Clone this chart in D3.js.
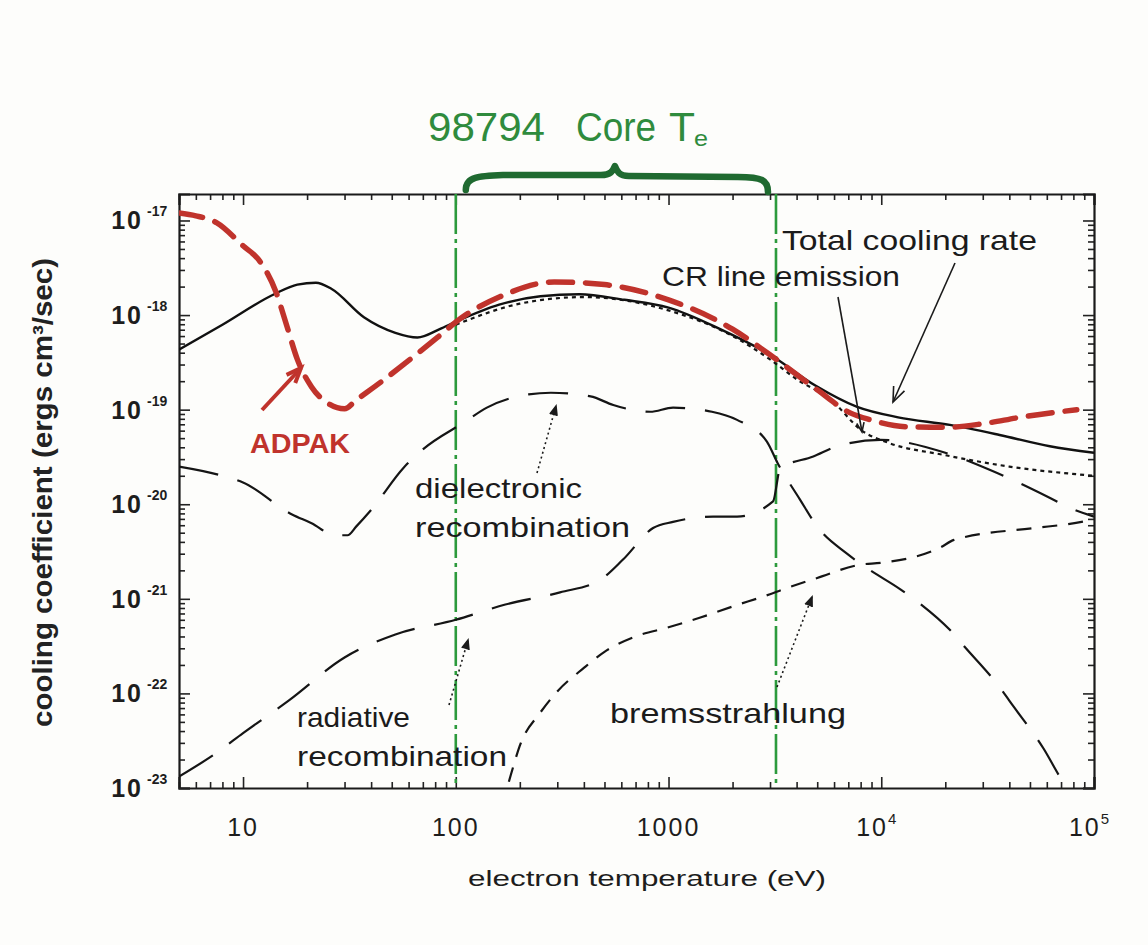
<!DOCTYPE html>
<html>
<head>
<meta charset="utf-8">
<script src="https://cdn.jsdelivr.net/npm/d3@7"></script>
<style>
  html, body { margin: 0; padding: 0; background: #fdfdfb; }
  svg { display: block; }
  text { font-family: "Liberation Sans", Arial, Helvetica, sans-serif; }
</style>
</head>
<body>
<svg id="chart" width="1148" height="945"></svg>
<script>
// ---- data: electron temperature (eV) and cooling coefficient (ergs cm^3/sec) ----
const totalT = [5, 8, 14, 18, 22, 26, 37, 52, 66, 84, 100, 160, 250, 380, 620, 1000, 1750, 3000, 4900, 7700, 12000, 21000, 36000, 62000, 100000];
const totalRate = [4.3e-19, 7.9e-19, 1.66e-18, 2.1e-18, 2.2e-18, 1.9e-18, 9.5e-19, 6.5e-19, 5.8e-19, 7.1e-19, 8.5e-19, 1.29e-18, 1.58e-18, 1.66e-18, 1.45e-18, 1.2e-18, 7.1e-19, 3.8e-19, 1.8e-19, 1.07e-19, 8.3e-20, 6.9e-20, 5.4e-20, 4.1e-20, 3.5e-20];

const lineT = [100, 200, 400, 1000, 2000, 3000, 4000, 5750, 8200, 10700, 20000, 40000, 100000];
const lineRate = [7.9e-19, 1.32e-18, 1.55e-18, 1.12e-18, 6.0e-19, 3.4e-19, 2.1e-19, 1.29e-19, 5.9e-20, 4.5e-20, 3.3e-20, 2.5e-20, 2.0e-20];

const adpakT = [5, 6, 7.5, 10, 12, 14.3, 16, 18, 21, 25, 30, 34, 45, 62, 82, 106, 160, 290, 500, 1000, 2000, 3000, 5000, 7100, 8900, 13000, 20000, 30000, 45000, 83000];
const adpakRate = [1.2e-17, 1.12e-17, 9.5e-18, 5.4e-18, 3.7e-18, 1.74e-18, 7.9e-19, 3.4e-19, 1.74e-19, 1.17e-19, 1.02e-19, 1.26e-19, 2.0e-19, 3.5e-19, 5.8e-19, 9.3e-19, 1.55e-18, 2.24e-18, 2.1e-18, 1.45e-18, 7.1e-19, 3.8e-19, 1.62e-19, 9.3e-20, 7.8e-20, 6.6e-20, 6.5e-20, 7.1e-20, 8.3e-20, 1.0e-19];

const dielT = [5, 8, 10, 17, 21, 27, 31, 34, 40, 57, 70, 110, 140, 220, 280, 430, 550, 820, 1050, 1600, 2100, 2900, 3250, 4150, 5000, 6900, 8600, 12300, 15200, 21000, 25000, 35000, 42000, 58000, 69000, 85000];
const dielRate = [2.5e-20, 2.0e-20, 1.7e-20, 7.8e-21, 6.3e-21, 4.7e-21, 4.7e-21, 5.8e-21, 8.7e-21, 2.45e-20, 3.8e-20, 7.4e-20, 1.05e-19, 1.45e-19, 1.51e-19, 1.38e-19, 1.12e-19, 9.5e-20, 1.05e-19, 9.5e-20, 7.8e-20, 4.6e-20, 2.75e-20, 1.12e-20, 5.8e-21, 3.0e-21, 2.1e-21, 1.26e-21, 8.9e-22, 4.7e-22, 3.0e-22, 1.26e-22, 7.2e-23, 2.6e-23, 1.32e-23, 6.3e-24];

const radT = [5, 7.6, 10, 16.5, 30, 52, 100, 171, 309, 476, 611, 846, 1050, 1620, 2100, 3100, 3350, 4790, 6200, 9900, 20000, 32500, 41600, 60500, 77300, 100000];
const radRate = [1.32e-23, 2.4e-23, 3.8e-23, 8.5e-23, 2.4e-22, 4.2e-22, 6.0e-22, 8.7e-22, 1.17e-21, 1.58e-21, 2.6e-21, 5.6e-21, 6.5e-21, 7.4e-21, 7.4e-21, 1.07e-20, 2.4e-20, 3.2e-20, 4.1e-20, 4.8e-20, 3.5e-20, 2.3e-20, 1.8e-20, 1.2e-20, 9.1e-21, 7.4e-21];

const bremT = [165, 185, 200, 250, 300, 400, 500, 700, 1000, 1400, 2000, 3000, 3460, 5000, 8000, 10000, 19000, 22000, 52000, 77000, 100000];
const bremRate = [6.3e-24, 1.6e-23, 2.8e-23, 6.3e-23, 1.05e-22, 1.86e-22, 2.75e-22, 4.0e-22, 5.0e-22, 6.3e-22, 8.3e-22, 1.12e-21, 1.26e-21, 1.66e-21, 2.3e-21, 2.4e-21, 3.5e-21, 4.2e-21, 5.6e-21, 6.2e-21, 6.9e-21];

// core temperature range (eV) marked by the vertical lines
const coreRange = [100, 3200];

// tick labels
const xTickValues = [10, 100, 1000, 1e4, 1e5];
const xTickBase = ["10", "100", "1000", "10", "10"];
const xTickSup = ["", "", "", "4", "5"];
const yTickValues = [1e-17, 1e-18, 1e-19, 1e-20, 1e-21, 1e-22, 1e-23];
const yTickSup = ["-17", "-18", "-19", "-20", "-21", "-22", "-23"];

// ---- layout ----
const plot = { left: 179, right: 1094, top: 194, bottom: 788 };
const svg = d3.select("#chart");

const x = d3.scaleLog().domain([5, 1e5]).range([plot.left, plot.right]);
const y = d3.scaleLog().domain([1e-23, Math.pow(10, -16.72)]).range([plot.bottom, plot.top]);

svg.append("defs").append("clipPath").attr("id", "plotClip")
  .append("rect")
  .attr("x", plot.left).attr("y", plot.top)
  .attr("width", plot.right - plot.left).attr("height", plot.bottom - plot.top);

// minor tick values for both log axes
const xMinor = [];
for (let e = 0; e <= 4; e++) for (let m = 2; m <= 9; m++) {
  const v = m * Math.pow(10, e);
  if (v >= 5 && v <= 1e5) xMinor.push(v);
}
const yMinor = [];
for (let e = -23; e <= -17; e++) for (let m = 2; m <= 9; m++) {
  const v = m * Math.pow(10, e);
  if (v <= Math.pow(10, -16.72)) yMinor.push(v);
}

function drawAxis(gen, transform, major, minor) {
  const g = svg.append("g").attr("transform", transform);
  g.call(gen.tickValues(minor).tickSize(-6).tickFormat(""));
  g.selectAll(".domain").remove();
  const g2 = svg.append("g").attr("transform", transform);
  g2.call(gen.tickValues(major).tickSize(-11).tickFormat(""));
  [g, g2].forEach(s => {
    s.selectAll("line").attr("stroke", "#222").attr("stroke-width", 1.6);
    s.selectAll(".domain").attr("stroke", "#1a1a1a").attr("stroke-width", 2.2);
  });
}
drawAxis(d3.axisBottom(x), `translate(0,${plot.bottom})`, xTickValues, xMinor);
drawAxis(d3.axisTop(x), `translate(0,${plot.top})`, xTickValues, xMinor);
drawAxis(d3.axisLeft(y), `translate(${plot.left},0)`, yTickValues, yMinor);
drawAxis(d3.axisRight(y), `translate(${plot.right},0)`, yTickValues, yMinor);

// x tick labels
xTickValues.forEach((v, i) => {
  const t = svg.append("text")
    .attr("x", x(v) - (xTickSup[i] ? 4 : 0)).attr("y", 836)
    .attr("text-anchor", "middle")
    .attr("font-size", 25).attr("letter-spacing", 2).attr("fill", "#1d1d1d");
  t.append("tspan").text(xTickBase[i]);
  if (xTickSup[i]) t.append("tspan").attr("dy", -12).attr("font-size", 15).text(xTickSup[i]);
});

// y tick labels
yTickValues.forEach((v, i) => {
  svg.append("text")
    .attr("x", 143).attr("y", y(v) + 9)
    .attr("text-anchor", "end")
    .attr("font-size", 25).attr("letter-spacing", 2).attr("font-weight", "bold").attr("fill", "#1d1d1d")
    .text("10");
  svg.append("text")
    .attr("x", 147).attr("y", y(v) - 4)
    .attr("font-size", 14).attr("font-weight", "bold").attr("fill", "#1d1d1d")
    .text(yTickSup[i]);
});

// axis titles
svg.append("text")
  .attr("transform", "translate(52,727) rotate(-90)")
  .attr("font-size", 27).attr("font-weight", "bold").attr("fill", "#222")
  .attr("textLength", 469).attr("lengthAdjust", "spacingAndGlyphs")
  .text("cooling  coefficient  (ergs  cm\u00B3/sec)");

svg.append("text")
  .attr("x", 468).attr("y", 886)
  .attr("font-size", 22).attr("fill", "#1d1d1d")
  .attr("textLength", 358).attr("lengthAdjust", "spacingAndGlyphs")
  .text("electron  temperature   (eV)");

// ---- curves ----
const plotArea = svg.append("g").attr("clip-path", "url(#plotClip)");
const lineGen = d3.line().x(d => x(d[0])).y(d => y(d[1])).curve(d3.curveMonotoneX);
const pairs = (ts, vs) => ts.map((t, i) => [t, vs[i]]);

// core temperature markers (dash-dot)
coreRange.forEach(t => {
  plotArea.append("line")
    .attr("x1", x(t)).attr("x2", x(t)).attr("y1", plot.top).attr("y2", plot.bottom)
    .attr("stroke", "#2c9a3c").attr("stroke-width", 2.6)
    .attr("stroke-dasharray", "40,5,4,5");
});

const series = [
  { t: radT, v: radRate, dash: "40,20", w: 2.2, c: "#151515" },
  { t: dielT, v: dielRate, dash: "40,20", w: 2.2, c: "#151515" },
  { t: bremT, v: bremRate, dash: "15,11", w: 2.2, c: "#151515" },
  { t: lineT, v: lineRate, dash: "4,4", w: 2.2, c: "#151515" },
  { t: totalT, v: totalRate, dash: null, w: 2.4, c: "#111" },
  { t: adpakT, v: adpakRate, dash: "24,13", w: 5.5, c: "#c0332c" }
];
series.forEach(s => {
  plotArea.append("path")
    .datum(pairs(s.t, s.v))
    .attr("d", lineGen)
    .attr("fill", "none")
    .attr("stroke", s.c).attr("stroke-width", s.w)
    .attr("stroke-dasharray", s.dash)
    .attr("stroke-linecap", s.dash && s.w > 4 ? "round" : "butt");
});

// ---- annotations ----
function arrow(x1, y1, x2, y2, opts) {
  const g = svg.append("g");
  g.append("line").attr("x1", x1).attr("y1", y1).attr("x2", x2).attr("y2", y2)
    .attr("stroke", opts.color).attr("stroke-width", opts.width)
    .attr("stroke-dasharray", opts.dash || null);
  const ang = Math.atan2(y2 - y1, x2 - x1);
  const L = opts.head, a = 0.38;
  const p1 = [x2 - L * Math.cos(ang - a), y2 - L * Math.sin(ang - a)];
  const p2 = [x2 - L * Math.cos(ang + a), y2 - L * Math.sin(ang + a)];
  g.append("path")
    .attr("d", `M${p1[0]},${p1[1]}L${x2},${y2}L${p2[0]},${p2[1]}`)
    .attr("fill", opts.fill ? opts.color : "none")
    .attr("stroke", opts.color).attr("stroke-width", opts.width);
}

const labelStyle = t => t.attr("font-size", 28).attr("fill", "#1b1b1b").attr("lengthAdjust", "spacingAndGlyphs");

labelStyle(svg.append("text").attr("x", 782).attr("y", 250).attr("textLength", 255).text("Total  cooling  rate"));
labelStyle(svg.append("text").attr("x", 662).attr("y", 286).attr("textLength", 238).text("CR  line  emission"));
labelStyle(svg.append("text").attr("x", 415).attr("y", 498).attr("textLength", 167).text("dielectronic"));
labelStyle(svg.append("text").attr("x", 415).attr("y", 537).attr("textLength", 215).text("recombination"));
labelStyle(svg.append("text").attr("x", 297).attr("y", 727).attr("textLength", 113).text("radiative"));
labelStyle(svg.append("text").attr("x", 297).attr("y", 766).attr("textLength", 210).text("recombination"));
labelStyle(svg.append("text").attr("x", 610).attr("y", 723).attr("textLength", 236).text("bremsstrahlung"));

arrow(955, 263, 893, 402, { color: "#1b1b1b", width: 1.6, head: 16 });
arrow(838, 297, 862, 432, { color: "#1b1b1b", width: 1.6, head: 10 });
arrow(537, 473, 556, 406, { color: "#1b1b1b", width: 1.6, head: 10, dash: "2,3", fill: true });
arrow(449, 705, 468, 640, { color: "#1b1b1b", width: 1.6, head: 10, dash: "2,3", fill: true });
arrow(777, 687, 812, 597, { color: "#1b1b1b", width: 1.6, head: 10, dash: "2,3", fill: true });

// ADPAK label and arrow
svg.append("text").attr("x", 250).attr("y", 453)
  .attr("font-size", 27).attr("font-weight", "bold").attr("fill", "#c0332c")
  .attr("textLength", 100).attr("lengthAdjust", "spacingAndGlyphs").text("ADPAK");
arrow(262, 410, 301, 368, { color: "#c0332c", width: 4, head: 16 });

// core temperature bracket and title
const bx0 = x(coreRange[0]) + 10, bx1 = x(coreRange[1]) - 8, bm = (bx0 + bx1) / 2 - 2;
svg.append("path")
  .attr("d", `M${bx0},${190} C${bx0},${176} ${bx0 + 14},${176} ${bx0 + 40},${175}
              L${bm - 14},${175} C${bm - 4},${175} ${bm - 2},${171} ${bm},${166}
              C${bm + 2},${171} ${bm + 4},${176} ${bm + 14},${176}
              L${bx1 - 30},${177} C${bx1 - 6},${177} ${bx1},${180} ${bx1},${192}`)
  .attr("fill", "none").attr("stroke", "#1f6a30").attr("stroke-width", 6.5)
  .attr("stroke-linecap", "round").attr("stroke-linejoin", "round");

const titleStyle = t => t.attr("fill", "#2f8b3d").attr("font-family", "'DejaVu Sans', sans-serif")
  .attr("lengthAdjust", "spacingAndGlyphs");
titleStyle(svg.append("text").attr("x", 428).attr("y", 141).attr("font-size", 40).attr("textLength", 117).text("98794"));
titleStyle(svg.append("text").attr("x", 576).attr("y", 141).attr("font-size", 40).attr("textLength", 80).text("Core"));
titleStyle(svg.append("text").attr("x", 669).attr("y", 141).attr("font-size", 40).attr("textLength", 26).text("T"));
titleStyle(svg.append("text").attr("x", 694).attr("y", 146).attr("font-size", 22).attr("textLength", 14).text("e"));
</script>
</body>
</html>
